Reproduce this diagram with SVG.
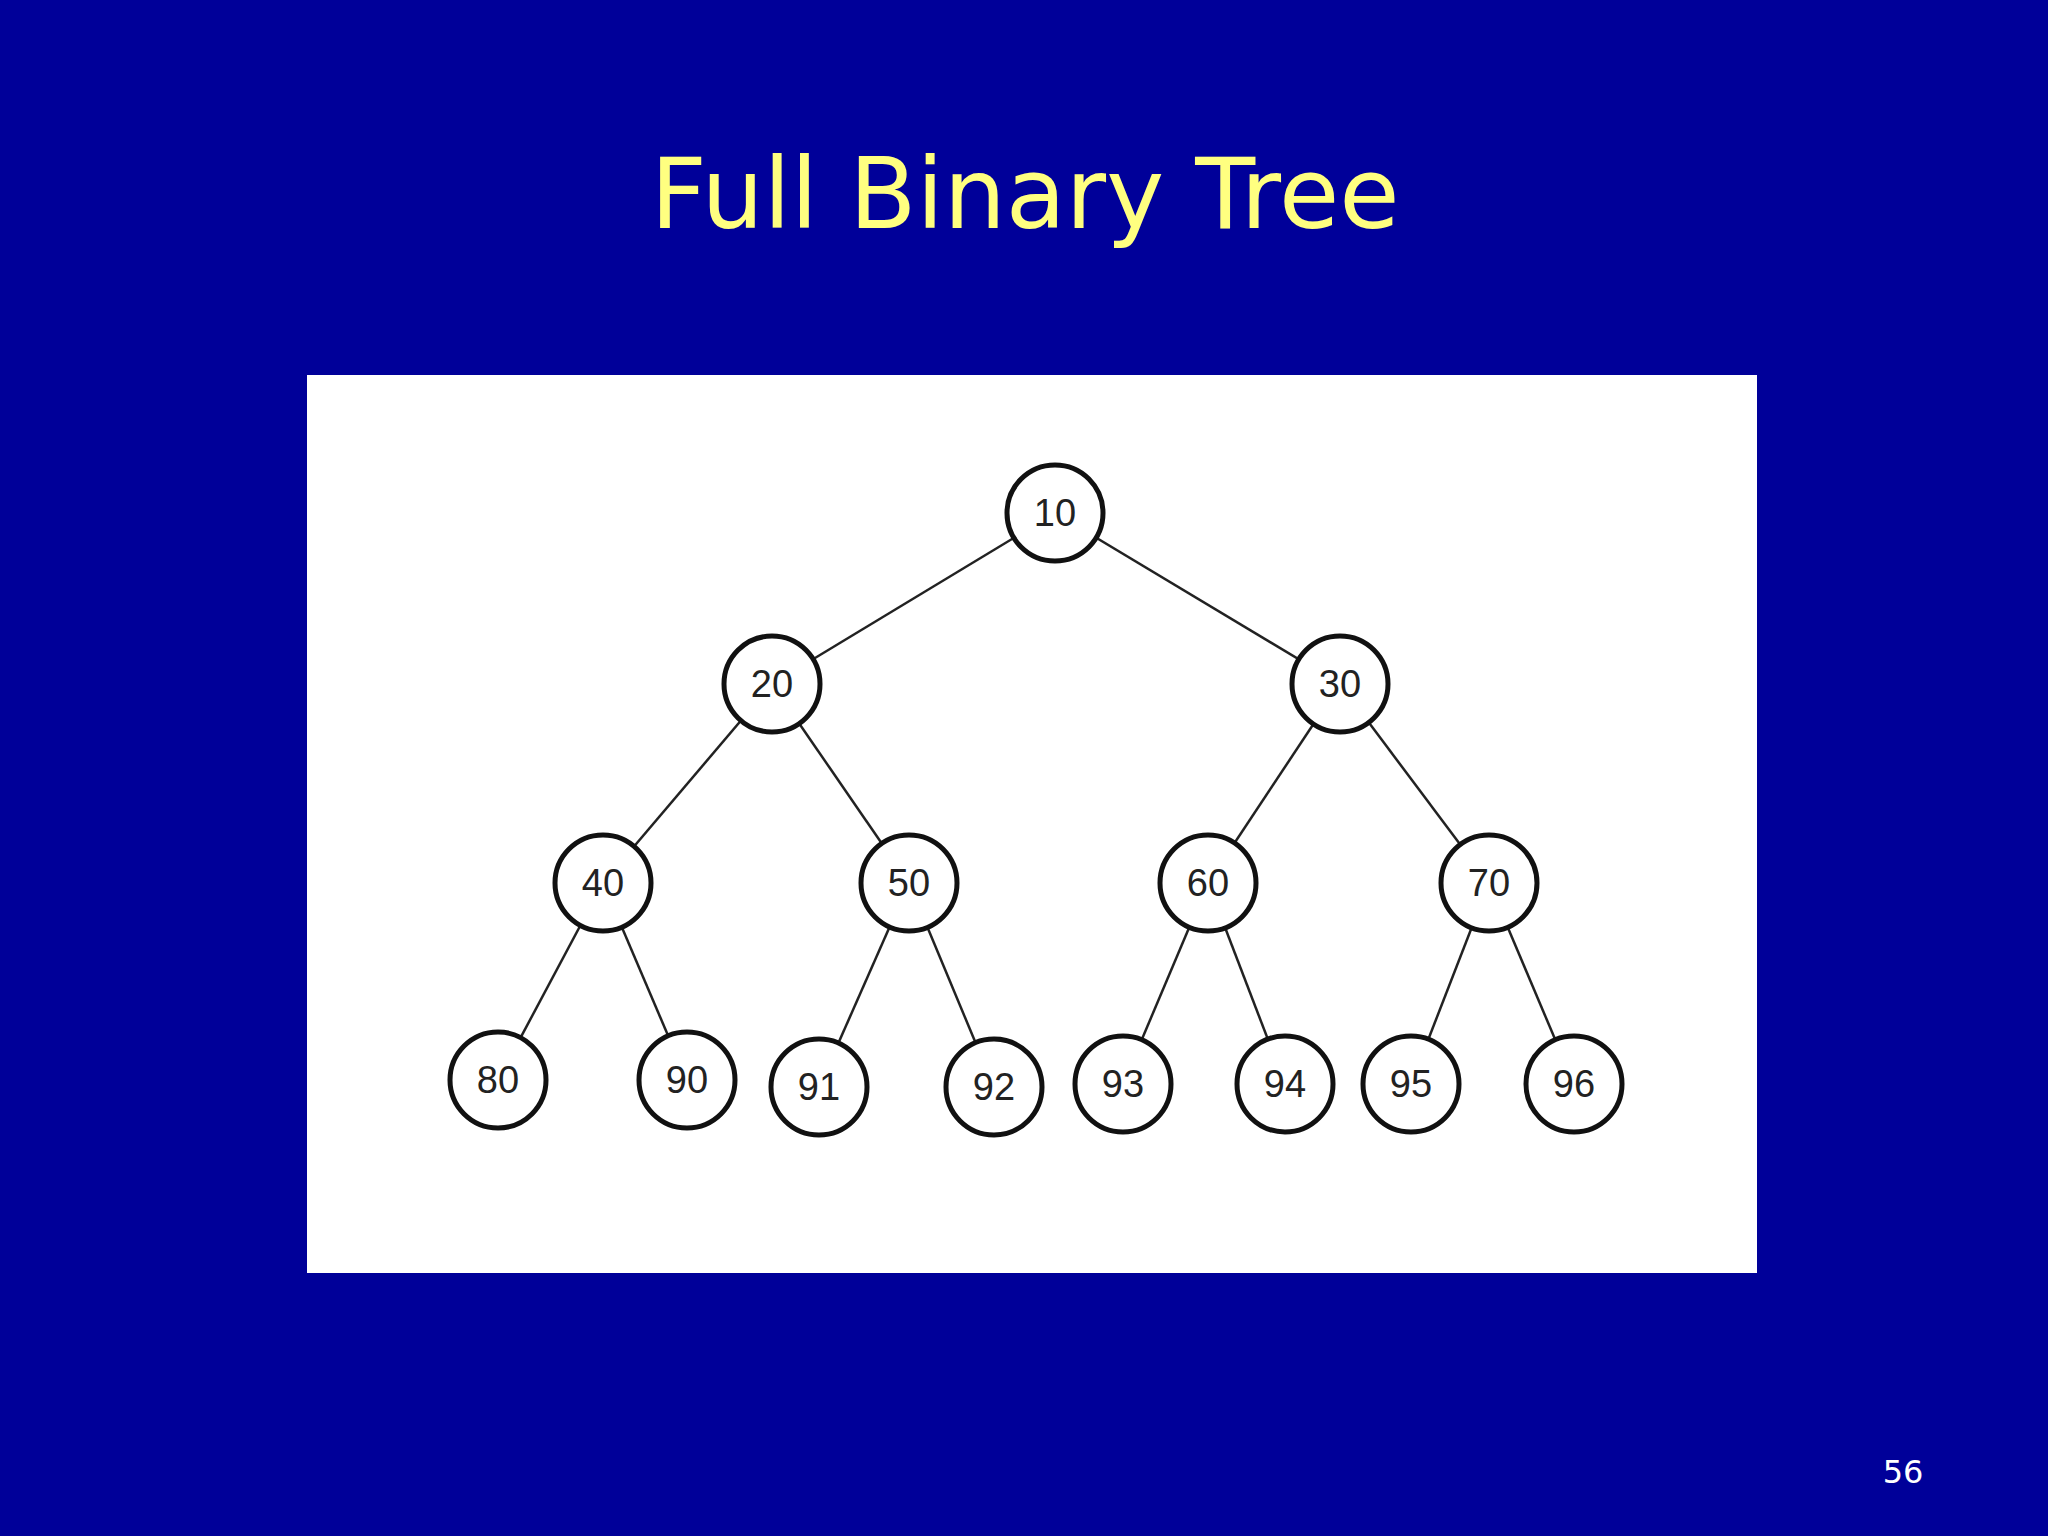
<svg xmlns="http://www.w3.org/2000/svg" width="2048" height="1536" viewBox="0 0 2048 1536">
<style>
.n circle{fill:#fff;stroke:#111;stroke-width:5}
.n text{font-family:"Liberation Sans",Arial,sans-serif;font-size:38px;fill:#222;text-anchor:middle;dominant-baseline:central}
#edges line{stroke:#222;stroke-width:2.5}
</style>
<rect width="2048" height="1536" fill="#000099"/>
<text x="1025" y="228" font-family="DejaVu Sans,Verdana,sans-serif" font-size="98" fill="#ffff80" text-anchor="middle">Full Binary Tree</text>
<rect x="307" y="375" width="1450" height="898" fill="#fff"/>
<g id="edges">
<line x1="1055" y1="513" x2="772" y2="684"/><line x1="1055" y1="513" x2="1340" y2="684"/>
<line x1="772" y1="684" x2="603" y2="883"/><line x1="772" y1="684" x2="909" y2="883"/>
<line x1="1340" y1="684" x2="1208" y2="883"/><line x1="1340" y1="684" x2="1489" y2="883"/>
<line x1="603" y1="883" x2="498" y2="1080"/><line x1="603" y1="883" x2="687" y2="1080"/>
<line x1="909" y1="883" x2="819" y2="1087"/><line x1="909" y1="883" x2="994" y2="1087"/>
<line x1="1208" y1="883" x2="1123" y2="1084"/><line x1="1208" y1="883" x2="1285" y2="1084"/>
<line x1="1489" y1="883" x2="1411" y2="1084"/><line x1="1489" y1="883" x2="1574" y2="1084"/>
</g>
<g id="n10" class="n"><circle cx="1055" cy="513" r="48"/><text x="1055" y="513">10</text></g>
<g id="n20" class="n"><circle cx="772" cy="684" r="48"/><text x="772" y="684">20</text></g>
<g id="n30" class="n"><circle cx="1340" cy="684" r="48"/><text x="1340" y="684">30</text></g>
<g id="n40" class="n"><circle cx="603" cy="883" r="48"/><text x="603" y="883">40</text></g>
<g id="n50" class="n"><circle cx="909" cy="883" r="48"/><text x="909" y="883">50</text></g>
<g id="n60" class="n"><circle cx="1208" cy="883" r="48"/><text x="1208" y="883">60</text></g>
<g id="n70" class="n"><circle cx="1489" cy="883" r="48"/><text x="1489" y="883">70</text></g>
<g id="n80" class="n"><circle cx="498" cy="1080" r="48"/><text x="498" y="1080">80</text></g>
<g id="n90" class="n"><circle cx="687" cy="1080" r="48"/><text x="687" y="1080">90</text></g>
<g id="n91" class="n"><circle cx="819" cy="1087" r="48"/><text x="819" y="1087">91</text></g>
<g id="n92" class="n"><circle cx="994" cy="1087" r="48"/><text x="994" y="1087">92</text></g>
<g id="n93" class="n"><circle cx="1123" cy="1084" r="48"/><text x="1123" y="1084">93</text></g>
<g id="n94" class="n"><circle cx="1285" cy="1084" r="48"/><text x="1285" y="1084">94</text></g>
<g id="n95" class="n"><circle cx="1411" cy="1084" r="48"/><text x="1411" y="1084">95</text></g>
<g id="n96" class="n"><circle cx="1574" cy="1084" r="48"/><text x="1574" y="1084">96</text></g>
<text x="1903" y="1483" font-family="DejaVu Sans,Verdana,sans-serif" font-size="32" fill="#fff" text-anchor="middle">56</text>
</svg>
